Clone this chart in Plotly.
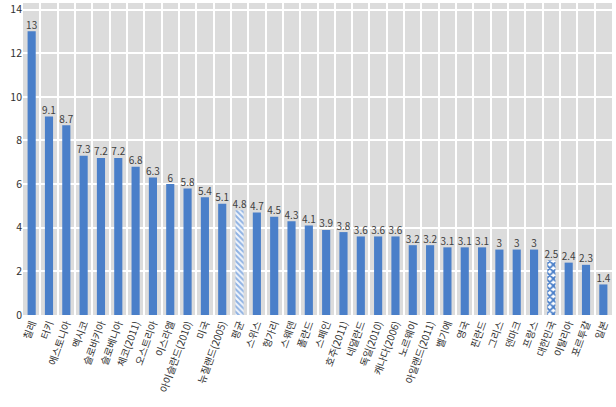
import plotly.graph_objects as go

categories = ["칠레", "터키", "에스토니아", "멕시코", "슬로바키아", "슬로베니아", "체코(2011)",
              "오스트리아", "이스라엘", "아이슬란드(2010)", "미국", "뉴질랜드(2005)", "평균",
              "스위스", "헝가리", "스웨덴", "폴란드", "스페인", "호주(2011)", "네덜란드",
              "독일(2010)", "캐나다(2006)", "노르웨이", "아일랜드(2011)", "벨기에", "영국",
              "핀란드", "그리스", "덴마크", "프랑스", "대한민국", "이탈리아", "포르투갈", "일본"]
values = [13, 9.1, 8.7, 7.3, 7.2, 7.2, 6.8, 6.3, 6, 5.8, 5.4, 5.1, 4.8, 4.7, 4.5, 4.3, 4.1,
          3.9, 3.8, 3.6, 3.6, 3.6, 3.2, 3.2, 3.1, 3.1, 3.1, 3, 3, 3, 2.5, 2.4, 2.3, 1.4]
y_ticks = [0, 2, 4, 6, 8, 10, 12, 14]
avg_label = "평균"
korea_label = "대한민국"

blue = "#4a7fc9"

normal_x = [c for c in categories if c not in (avg_label, korea_label)]
normal_y = [v for c, v in zip(categories, values) if c not in (avg_label, korea_label)]
avg_y = [v for c, v in zip(categories, values) if c == avg_label]
kor_y = [v for c, v in zip(categories, values) if c == korea_label]

fig = go.Figure()
fig.add_trace(go.Bar(x=normal_x, y=normal_y, width=0.47,
                     marker=dict(color=blue, line=dict(width=0)), hoverinfo="x+y"))
fig.add_trace(go.Bar(x=[avg_label], y=avg_y, width=0.47,
                     marker=dict(color="#f2f6fc", line=dict(width=0),
                                 pattern=dict(shape="\\", fgcolor="#8fb2e3", bgcolor="#f2f6fc",
                                              fillmode="replace", size=4, solidity=0.5))))
fig.add_trace(go.Bar(x=[korea_label], y=kor_y, width=0.47,
                     marker=dict(color="white", line=dict(width=0),
                                 pattern=dict(shape="x", fgcolor=blue, bgcolor="white",
                                              fillmode="replace", size=5, solidity=0.6))))
fig.add_trace(go.Scatter(
    x=categories, y=values, mode="text",
    text=[f"{v:g}" for v in values],
    textposition="top center",
    textfont=dict(family="Noto Sans CJK KR, sans-serif", size=10, color="#404040"),
    cliponaxis=False, hoverinfo="skip",
))

fig.update_layout(
    width=616, height=407,
    margin=dict(l=23, r=4, t=3, b=92),
    paper_bgcolor="white",
    plot_bgcolor="#dcdcdc",
    showlegend=False,
    barmode="overlay",
    font=dict(family="Noto Sans CJK KR, sans-serif", size=11, color="#404040"),
)
fig.update_xaxes(
    type="category",
    categoryorder="array", categoryarray=categories,
    range=[-0.5, len(categories) - 0.5],
    tickson="boundaries",
    showgrid=True, gridcolor="white", gridwidth=2,
    ticks="", tickangle=-70, automargin=False,
    tickfont=dict(size=10, color="#303030"),
    showline=False, zeroline=False,
)
fig.update_yaxes(
    range=[0, 14.3],
    tickvals=y_ticks, automargin=False,
    showgrid=True, gridcolor="white", gridwidth=2,
    zeroline=False, showline=False, ticks="",
    tickfont=dict(size=10.5, color="#303030"),
)

fig.write_html("out.html")
